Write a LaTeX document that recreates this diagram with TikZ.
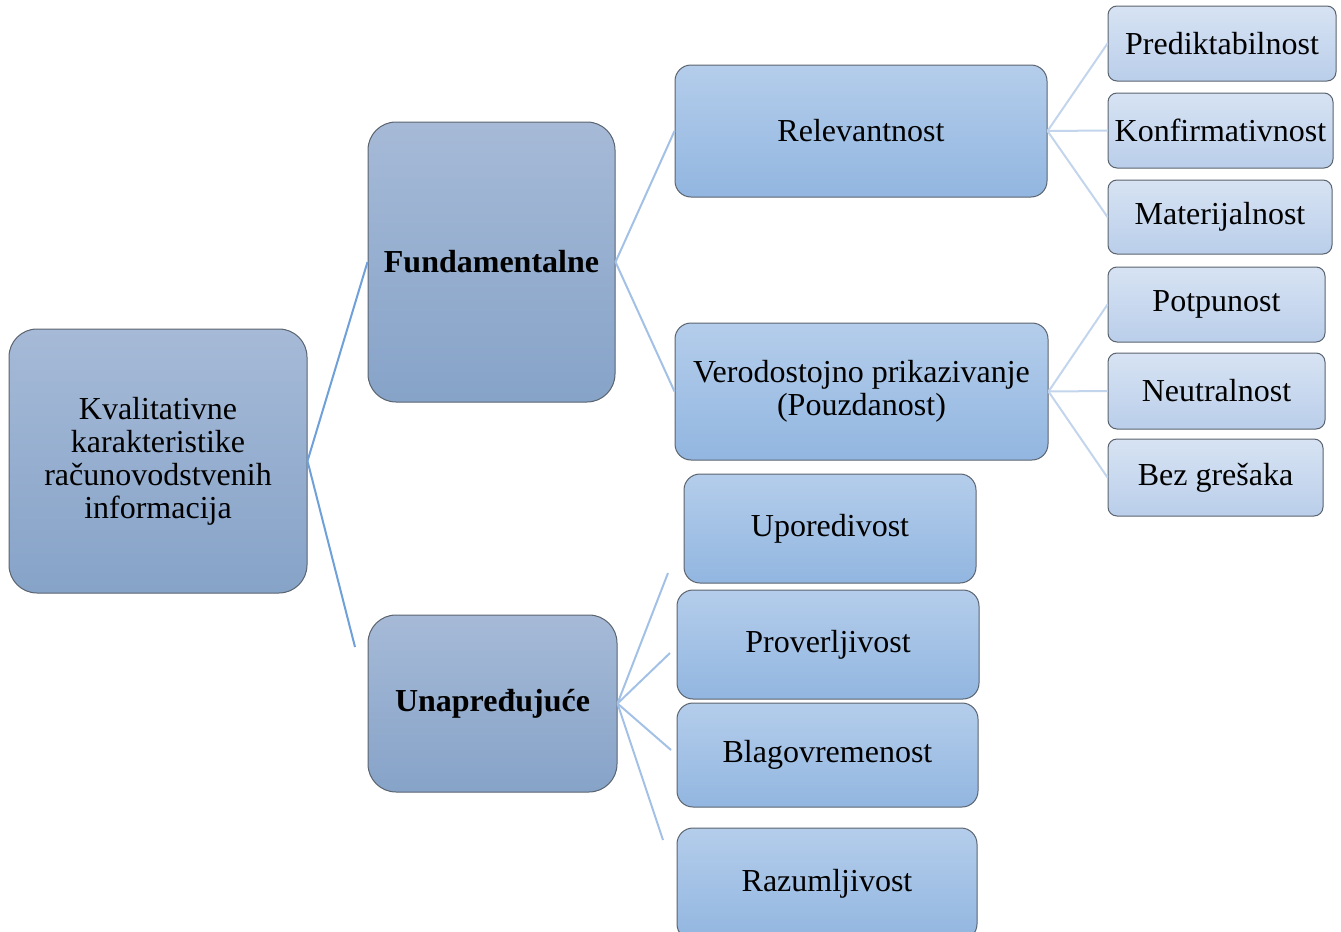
\documentclass[tikz,border=0pt]{standalone}
\usepackage{fontspec}
\setmainfont{Liberation Serif}
\begin{document}
\definecolor{rootTop}{HTML}{A6BAD7}
\definecolor{rootBot}{HTML}{86A3C8}
\definecolor{midTop}{HTML}{B4CDEB}
\definecolor{midBot}{HTML}{92B6E0}
\definecolor{leafTop}{HTML}{D7E3F3}
\definecolor{leafBot}{HTML}{BACEEA}
\definecolor{edge}{HTML}{5A636E}
\definecolor{linkDark}{HTML}{6FA0D9}
\definecolor{linkMid}{HTML}{A3C1E6}
\definecolor{linkLight}{HTML}{C3D5EC}
\begin{tikzpicture}[x=0.5pt,y=-0.5pt,
  box/.style={draw=edge,line width=0.5pt,inner sep=0pt,align=center,
    font=\fontsize{16}{16.5}\selectfont},
  rootbox/.style={box,rounded corners=14pt,top color=rootTop,bottom color=rootBot},
  midbox/.style={box,rounded corners=8pt,top color=midTop,bottom color=midBot},
  leafbox/.style={box,rounded corners=4.5pt,top color=leafTop,bottom color=leafBot},
  darklink/.style={draw=linkDark,line width=1pt},
  midlink/.style={draw=linkMid,line width=1pt},
  lightlink/.style={draw=linkLight,line width=1pt}]
\useasboundingbox (0,0) rectangle (1341,932);
\begin{scope}
\clip (0,0) rectangle (1341,932);
% main branches
\node[rootbox,minimum width=149pt,minimum height=132pt] (root) at (158,461)
  {Kvalitativne\\karakteristike\\računovodstvenih\\informacija};
\node[rootbox,minimum width=123.5pt,minimum height=140pt,font=\fontsize{16}{16.5}\selectfont\bfseries] (fund) at (491.5,262) {Fundamentalne};
\node[rootbox,minimum width=124.5pt,minimum height=88.5pt,font=\fontsize{16}{16.5}\selectfont\bfseries] (unap) at (492.5,703.5) {Unapređujuće};
% fundamental characteristics
\node[midbox,minimum width=186pt,minimum height=66pt] (rel) at (861,131) {Relevantnost};
\node[midbox,minimum width=186.5pt,minimum height=68.5pt] (ver) at (861.5,391.5) {Verodostojno prikazivanje\\(Pouzdanost)};
% sub-characteristics
\node[leafbox,minimum width=114pt,minimum height=37.5pt] (pred) at (1222,43.5) {Prediktabilnost};
\node[leafbox,minimum width=112.5pt,minimum height=37.5pt] (konf) at (1220.5,130.5) {Konfirmativnost};
\node[leafbox,minimum width=112pt,minimum height=37pt] (mat) at (1220,217) {Materijalnost};
\node[leafbox,minimum width=108.5pt,minimum height=37.5pt] (pot) at (1216.5,304.5) {Potpunost};
\node[leafbox,minimum width=108.5pt,minimum height=38pt] (neu) at (1216.5,391) {Neutralnost};
\node[leafbox,minimum width=107.5pt,minimum height=38.5pt] (bez) at (1215.5,477.5) {Bez grešaka};
% enhancing characteristics
\node[midbox,minimum width=146pt,minimum height=54.5pt] (upo) at (830,528.5) {Uporedivost};
\node[midbox,minimum width=151pt,minimum height=54.5pt] (pro) at (828,644.5) {Proverljivost};
\node[midbox,minimum width=150.5pt,minimum height=52pt] (bla) at (827.5,755) {Blagovremenost};
\node[midbox,minimum width=150pt,minimum height=56pt] (raz) at (827,884) {\raisebox{2pt}{Razumljivost}};
% free ends of the enhancing links
\coordinate (uend) at (355,647);
\coordinate (e1) at (668,573);
\coordinate (e2) at (670,653);
\coordinate (e3) at (671,750);
\coordinate (e4) at (663,840);
% connectors
\draw[darklink] (fund.west) -- (root.east) -- (uend);
\draw[midlink] (rel.west) -- (fund.east) -- (ver.west);
\draw[lightlink] (rel.east) -- (pred.west);
\draw[lightlink] (rel.east) -- (konf.west);
\draw[lightlink] (rel.east) -- (mat.west);
\draw[lightlink] (ver.east) -- (pot.west);
\draw[lightlink] (ver.east) -- (neu.west);
\draw[lightlink] (ver.east) -- (bez.west);
\draw[midlink] (unap.east) -- (e1);
\draw[midlink] (unap.east) -- (e2);
\draw[midlink] (unap.east) -- (e3);
\draw[midlink] (unap.east) -- (e4);
\end{scope}
\end{tikzpicture}
\end{document}
